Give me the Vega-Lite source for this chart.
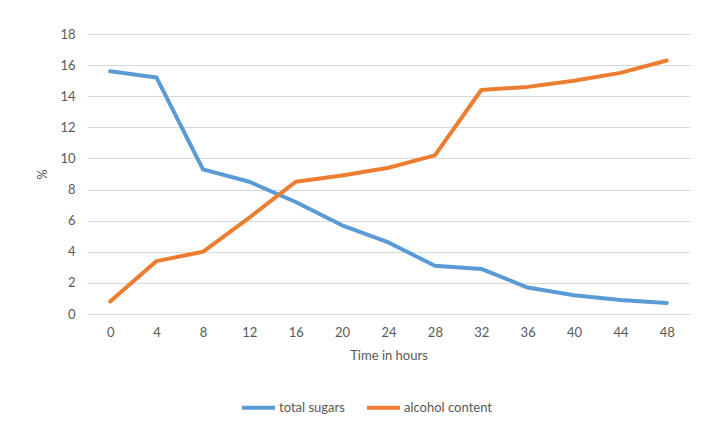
{
  "$schema": "https://vega.github.io/schema/vega-lite/v6.json",
  "width": 603,
  "height": 280,
  "autosize": {"type": "none"},
  "padding": {"left": 87, "top": 34, "right": 12, "bottom": 109},
  "background": "white",
  "config": {
    "font": "Lato",
    "view": {"stroke": null},
    "axis": {"labelColor": "#595959", "titleColor": "#595959", "labelFontSize": 13, "titleFontSize": 13, "titleFontWeight": "normal", "labelFont": "Lato", "titleFont": "Lato"},
    "legend": {"labelColor": "#595959", "labelFontSize": 13, "labelFont": "Lato"}
  },
  "data": {
    "values": [
      {"time": 0, "series": "total sugars", "value": 15.6},
      {"time": 4, "series": "total sugars", "value": 15.2},
      {"time": 8, "series": "total sugars", "value": 9.3},
      {"time": 12, "series": "total sugars", "value": 8.5},
      {"time": 16, "series": "total sugars", "value": 7.2},
      {"time": 20, "series": "total sugars", "value": 5.7},
      {"time": 24, "series": "total sugars", "value": 4.6},
      {"time": 28, "series": "total sugars", "value": 3.1},
      {"time": 32, "series": "total sugars", "value": 2.9},
      {"time": 36, "series": "total sugars", "value": 1.7},
      {"time": 40, "series": "total sugars", "value": 1.2},
      {"time": 44, "series": "total sugars", "value": 0.9},
      {"time": 48, "series": "total sugars", "value": 0.7},
      {"time": 0, "series": "alcohol content", "value": 0.8},
      {"time": 4, "series": "alcohol content", "value": 3.4},
      {"time": 8, "series": "alcohol content", "value": 4.0},
      {"time": 12, "series": "alcohol content", "value": 6.2},
      {"time": 16, "series": "alcohol content", "value": 8.5},
      {"time": 20, "series": "alcohol content", "value": 8.9},
      {"time": 24, "series": "alcohol content", "value": 9.4},
      {"time": 28, "series": "alcohol content", "value": 10.2},
      {"time": 32, "series": "alcohol content", "value": 14.4},
      {"time": 36, "series": "alcohol content", "value": 14.6},
      {"time": 40, "series": "alcohol content", "value": 15.0},
      {"time": 44, "series": "alcohol content", "value": 15.5},
      {"time": 48, "series": "alcohol content", "value": 16.3}
    ]
  },
  "mark": {"type": "line", "strokeWidth": 4, "strokeCap": "round", "strokeJoin": "round"},
  "encoding": {
    "x": {
      "field": "time", "type": "ordinal", "sort": "ascending",
      "scale": {"type": "point", "padding": 0.5},
      "axis": {"title": "Time in hours", "labelAngle": 0, "ticks": false, "domain": false, "grid": false, "labelPadding": 12, "titlePadding": 10}
    },
    "y": {
      "field": "value", "type": "quantitative",
      "scale": {"domain": [0, 18], "nice": false},
      "axis": {"title": "%", "values": [0, 2, 4, 6, 8, 10, 12, 14, 16, 18], "ticks": false, "domain": false, "gridColor": "#D9D9D9", "gridWidth": 1, "labelPadding": 12, "titlePadding": 10}
    },
    "color": {
      "field": "series", "type": "nominal",
      "scale": {"domain": ["total sugars", "alcohol content"], "range": ["#5B9BD5", "#ED7D31"]},
      "legend": {"title": null, "orient": "none", "direction": "horizontal", "legendX": 153, "legendY": 355, "symbolType": "stroke", "symbolSize": 1089, "symbolStrokeWidth": 4, "labelOffset": 2, "columnPadding": 14}
    }
  }
}
